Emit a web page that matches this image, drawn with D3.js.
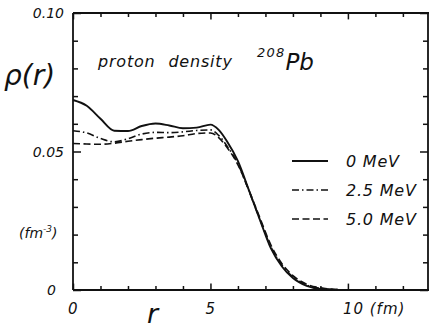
<!DOCTYPE html>
<html>
<head>
<meta charset="utf-8">
<script src="https://cdn.jsdelivr.net/npm/d3@7"></script>
<style>
  body { margin: 0; background: #fff; }
  text { font-family: "DejaVu Sans", "Liberation Sans", sans-serif; font-style: italic; fill: #111; }
</style>
</head>
<body>
<svg id="chart"></svg>
<script>
// radius in fm
const radius = [0, 0.5, 1.0, 1.5, 2.0, 2.5, 3.0, 3.5, 4.0, 4.5, 5.0, 5.3, 5.6, 6.0, 6.4, 6.8, 7.2, 7.6, 8.0, 8.5, 9.0, 10.0];
// proton density (fm^-3) at temperatures 0, 2.5, 5.0 MeV
const rho0 = [0.0686, 0.0665, 0.0618, 0.0575, 0.0574, 0.0592, 0.0601, 0.0594, 0.0584, 0.0586, 0.0597, 0.0578, 0.0537, 0.0465, 0.0360, 0.0253, 0.0150, 0.0085, 0.0043, 0.0015, 0.0004, 0.0];
const rho25 = [0.0575, 0.0567, 0.0547, 0.0535, 0.0546, 0.0563, 0.0569, 0.0568, 0.0571, 0.0576, 0.0578, 0.0558, 0.0520, 0.0455, 0.0358, 0.0255, 0.0155, 0.0090, 0.0047, 0.0018, 0.0006, 0.0];
const rho50 = [0.0529, 0.0527, 0.0526, 0.0530, 0.0537, 0.0543, 0.0548, 0.0552, 0.0557, 0.0565, 0.0567, 0.0550, 0.0515, 0.0452, 0.0360, 0.0260, 0.0162, 0.0095, 0.0052, 0.0021, 0.0008, 0.0];
const seriesNames = ["0 MeV", "2.5 MeV", "5.0 MeV"];
const xTickLabels = ["0", "5", "10  (fm)"];
const yTickLabels = ["0", "0.05", "0.10"];

const width = 429, height = 329;
const svg = d3.select("#chart").attr("width", width).attr("height", height);

const x = d3.scaleLinear().domain([0, 12.95]).range([73, 429]);
const y = d3.scaleLinear().domain([0, 0.1]).range([290, 13]);

const dashes = [null, "7,3,1.5,3", "7,3.5"];
const series = [rho0, rho25, rho50];

// frame
const frame = svg.append("g").attr("stroke", "#111").attr("stroke-width", 1.8).attr("fill", "none");
frame.append("line").attr("x1", x(0)).attr("x2", 429).attr("y1", y(0)).attr("y2", y(0));
frame.append("line").attr("x1", x(0)).attr("x2", 429).attr("y1", y(0.1)).attr("y2", y(0.1));
frame.append("line").attr("x1", x(0)).attr("x2", x(0)).attr("y1", y(0)).attr("y2", y(0.1));
frame.append("line").attr("x1", 428).attr("x2", 428).attr("y1", y(0)).attr("y2", y(0.1));

// ticks via axes (inward)
const xt = d3.range(0, 13);
const yt = d3.range(0, 11).map(d => d / 100);
function styleAxis(g, major) {
  g.select(".domain").remove();
  g.selectAll(".tick line").attr("stroke", "#111").attr("stroke-width", 1.5);
  g.selectAll(".tick").filter(major).select("line").each(function() {
    const l = d3.select(this);
    ["x2", "y2"].forEach(a => { const v = +l.attr(a); if (v) l.attr(a, v * 1.6); });
  });
}
svg.append("g").attr("transform", `translate(0,${y(0)})`)
  .call(d3.axisBottom(x).tickValues(xt).tickSize(-4).tickFormat(""))
  .call(g => styleAxis(g, d => d % 5 === 0));
svg.append("g").attr("transform", `translate(0,${y(0.1)})`)
  .call(d3.axisTop(x).tickValues(xt).tickSize(-4).tickFormat(""))
  .call(g => styleAxis(g, d => d % 5 === 0));
svg.append("g").attr("transform", `translate(${x(0)},0)`)
  .call(d3.axisLeft(y).tickValues(yt).tickSize(-5).tickFormat(""))
  .call(g => styleAxis(g, d => Math.round(d * 100) % 5 === 0));
svg.append("g").attr("transform", `translate(428,0)`)
  .call(d3.axisRight(y).tickValues(yt).tickSize(-5).tickFormat(""))
  .call(g => styleAxis(g, d => Math.round(d * 100) % 5 === 0));

// curves
const line = d3.line().x((d, i) => x(radius[i])).y(d => y(d)).curve(d3.curveMonotoneX);
series.forEach((s, k) => {
  svg.append("path").datum(s).attr("d", line)
    .attr("fill", "none").attr("stroke", "#111")
    .attr("stroke-width", k === 0 ? 1.9 : 1.6)
    .attr("stroke-dasharray", dashes[k]);
});

// tick labels
[0, 5, 10].forEach((v, i) => {
  svg.append("text").attr("x", x(v) - 5).attr("y", 314).attr("font-size", 15)
    .attr("letter-spacing", i === 2 ? 1 : 0).text(xTickLabels[i]);
});
[0, 0.05, 0.1].forEach((v, i) => {
  svg.append("text").attr("x", v === 0 ? 56 : 64).attr("y", y(v) + 5).attr("text-anchor", "end")
    .attr("font-size", 14).text(yTickLabels[i]);
});

// axis titles
svg.append("text").attr("x", 147).attr("y", 323).attr("font-size", 27).text("r");
svg.append("text").attr("x", 4).attr("y", 85).attr("font-size", 28).text("ρ(r)");
const unit = svg.append("text").attr("x", 19).attr("y", 238).attr("font-size", 14);
unit.append("tspan").text("(fm");
unit.append("tspan").attr("font-size", 9).attr("dy", -6).text("-3");
unit.append("tspan").attr("dy", 6).text(")");

// annotation
svg.append("text").attr("x", 98).attr("y", 67).attr("font-size", 16)
  .attr("letter-spacing", 0.8).attr("word-spacing", 7).text("proton density");
const pb = svg.append("text").attr("x", 257).attr("y", 70);
pb.append("tspan").attr("font-size", 13).attr("letter-spacing", 1.2).attr("dy", -13).text("208");
pb.append("tspan").attr("font-size", 23).attr("dy", 13).text("Pb");

// legend
const ly = [161, 190, 219];
seriesNames.forEach((name, k) => {
  svg.append("line").attr("x1", 292).attr("x2", 328).attr("y1", ly[k]).attr("y2", ly[k])
    .attr("stroke", "#111").attr("stroke-width", k === 0 ? 1.9 : 1.6)
    .attr("stroke-dasharray", dashes[k]);
  svg.append("text").attr("x", 346).attr("y", ly[k] + 6).attr("font-size", 16)
    .attr("letter-spacing", 0.8).text(name);
});
</script>
</body>
</html>
